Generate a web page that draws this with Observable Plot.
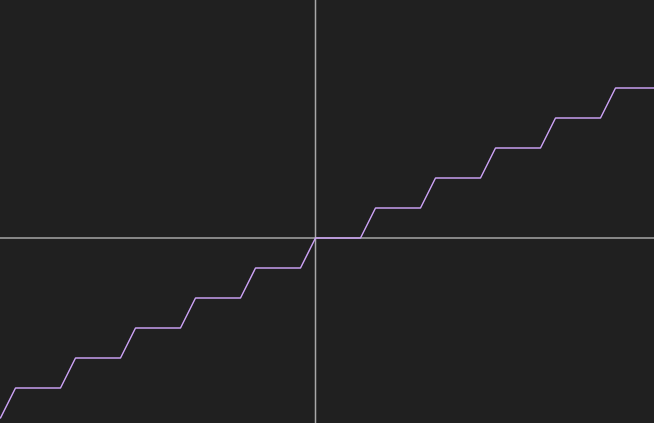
<!DOCTYPE html>
<html>
<head>
<meta charset="utf-8">
<script src="https://cdn.jsdelivr.net/npm/d3@7"></script>
<script src="https://cdn.jsdelivr.net/npm/@observablehq/plot@0.6"></script>
<style>
html, body { margin: 0; padding: 0; background: #202020; overflow: hidden; }
#chart svg { display: block; }
</style>
</head>
<body>
<div id="chart"></div>
<script>
const xs = [-5.25, -5, -4.25, -4, -3.25, -3, -2.25, -2, -1.25, -1, -0.25, 0, 0.75, 1, 1.75, 2, 2.75, 3, 3.75, 4, 4.75, 5, 5.65];
const ys = [-6, -5, -5, -4, -4, -3, -3, -2, -2, -1, -1, 0, 0, 1, 1, 2, 2, 3, 3, 4, 4, 5, 5];
const data = xs.map((x, i) => ({x, y: ys[i]}));

const chart = Plot.plot({
  width: 654,
  height: 423,
  margin: 0,
  style: {background: "#202020"},
  x: {domain: [-5.25, 5.65], axis: null},
  y: {domain: [-6.183, 7.917], axis: null},
  marks: [
    Plot.ruleX([0], {stroke: "#a8a8a8", strokeWidth: 1.5}),
    Plot.ruleY([0], {stroke: "#a8a8a8", strokeWidth: 1.5}),
    Plot.line(data, {x: "x", y: "y", stroke: "#c9a0f2", strokeWidth: 1.5})
  ]
});
document.getElementById("chart").append(chart);
</script>
</body>
</html>
